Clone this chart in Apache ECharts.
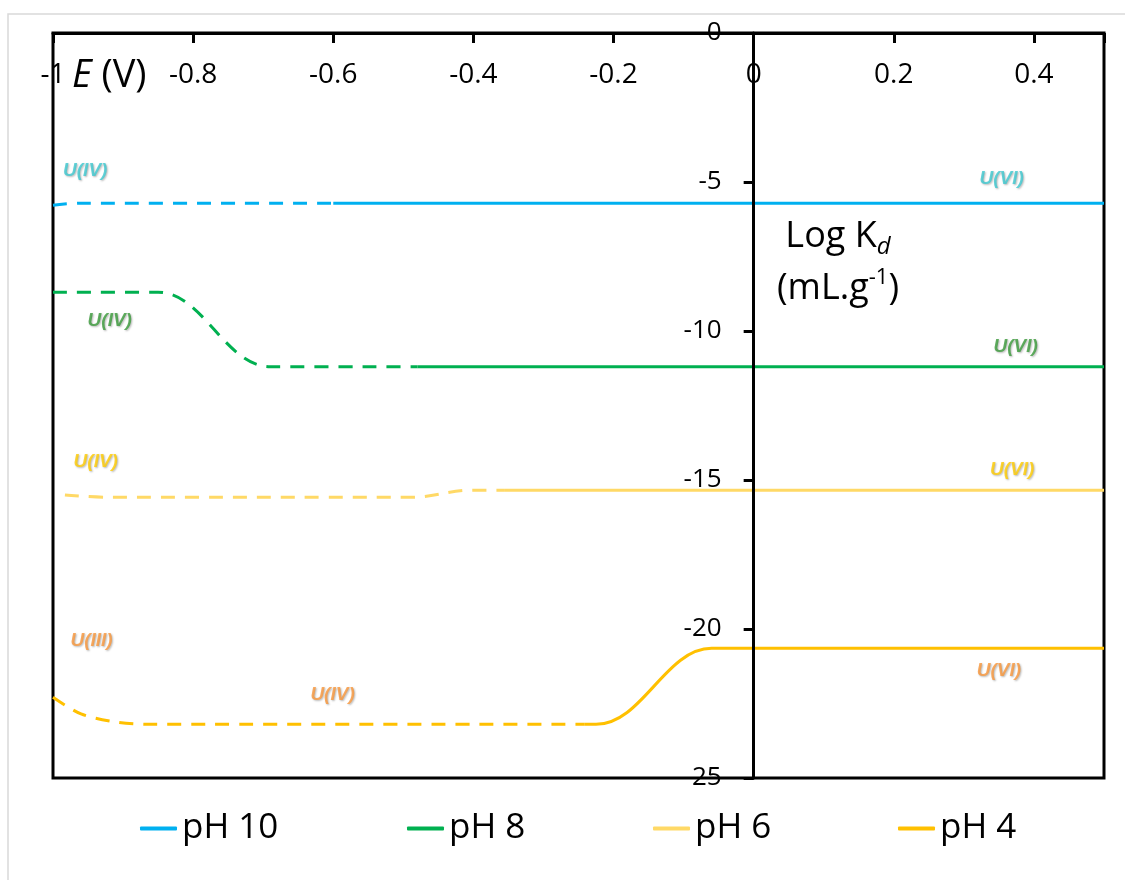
<!DOCTYPE html>
<html><head><meta charset="utf-8">
<script src="https://cdn.jsdelivr.net/npm/echarts@6/dist/echarts.min.js"></script>
<style>html,body{margin:0;padding:0;background:#fff}#c{width:1125px;height:880px}</style>
</head><body><div id="c"></div>
<script>
// ---- data ----
const seriesNames = ['pH 10', 'pH 8', 'pH 6', 'pH 4'];
const xTickLabels = ['-1', '-0.8', '-0.6', '-0.4', '-0.2', '0', '0.2', '0.4'];
const yTickLabels = ['0', '-5', '-10', '-15', '-20', '-25'];

// dashed part (reduced species) and solid part (U(VI)) of each curve
const pH10Dashed = [[-1, -5.78], [-0.96, -5.71], [-0.6, -5.71]];
const pH10Solid  = [[-0.6, -5.71], [0.5, -5.71]];

const pH8Dashed = [[-1, -8.70], [-0.85, -8.70], [-0.69, -11.20], [-0.48, -11.20]];
const pH8Solid  = [[-0.48, -11.20], [0.5, -11.20]];

const pH6Dashed = [[-0.983, -15.50], [-0.92, -15.58], [-0.49, -15.58], [-0.40, -15.34], [-0.355, -15.34]];
const pH6Solid  = [[-0.355, -15.34], [0.5, -15.34]];

const pH4Dashed = [[-1, -22.29], [-0.96, -22.85], [-0.91, -23.12], [-0.86, -23.20], [-0.241, -23.20]];
const pH4Solid  = [[-0.241, -23.20], [-0.225, -23.20], [-0.06, -20.65], [0.5, -20.65]];

const noteTexts  = ['U(IV)', 'U(VI)', 'U(IV)', 'U(VI)', 'U(IV)', 'U(VI)', 'U(III)', 'U(IV)', 'U(VI)'];
const noteX      = [-0.954, 0.354, -0.919, 0.374, -0.939, 0.369, -0.945, -0.601, 0.350];
const noteY      = [-4.63, -4.90, -9.66, -10.54, -14.40, -14.66, -20.40, -22.20, -21.41];
const noteGroup  = [0, 0, 1, 1, 2, 2, 3, 3, 3];

// ---- styles ----
const lineColors = ['#00B0F0', '#00B050', '#FFD966', '#FFC000'];
const noteColors = ['#3CC8CF', '#3A9A3A', '#FFCC00', '#F9963A'];
const legendLefts = [135, 402, 648, 893];
const FONT = 'Open Sans';
const GRID = {left: 53, right: 21, top: 33, bottom: 102};

const chart = echarts.init(document.getElementById('c'), null, {renderer: 'canvas'});

function lineSeries(name, data, color, dashed, monotone) {
  const s = {
    name: name, type: 'line', data: data, symbol: 'none', showSymbol: false,
    smooth: monotone ? 0.4 : 0.3,
    lineStyle: {color: color, width: 3, type: dashed ? [14, 10] : 'solid', cap: 'butt'},
    itemStyle: {color: color}, silent: true, z: 2
  };
  if (monotone) s.smoothMonotone = 'x';
  return s;
}

const dashedSets = [pH10Dashed, pH8Dashed, pH6Dashed, pH4Dashed];
const solidSets = [pH10Solid, pH8Solid, pH6Solid, pH4Solid];
const dashedMonotone = [true, true, true, false];
const series = [];
for (let i = 0; i < 4; i++) {
  series.push(lineSeries(seriesNames[i] + ' (reduced)', dashedSets[i], lineColors[i], true, dashedMonotone[i]));
  series.push(lineSeries(seriesNames[i], solidSets[i], lineColors[i], false, true));
}
series.push({
  type: 'scatter', symbolSize: 0, silent: true, z: 4,
  data: noteTexts.map((t, i) => ({
    value: [noteX[i], noteY[i]], name: t,
    label: {color: noteColors[noteGroup[i]]}
  })),
  label: {
    show: true, position: 'inside', formatter: p => p.name,
    fontFamily: 'Liberation Sans', fontWeight: 'bold', fontStyle: 'italic', fontSize: 19,
    textShadowColor: 'rgba(0,0,0,0.35)', textShadowBlur: 2, textShadowOffsetX: 1, textShadowOffsetY: 1
  }
});

function fmt(v) { return String(Math.round(v * 10) / 10); }

const X_MIN = -1, X_MAX = 0.5;
const plotWidth = 1125 - GRID.left - GRID.right;
// shift the y axis (line, ticks, labels) to x = 0
const yAxisOffset = -plotWidth * (0 - X_MIN) / (X_MAX - X_MIN);

const legends = seriesNames.map((n, i) => ({
  data: [n], left: legendLefts[i], top: 806, itemWidth: 37, itemHeight: 4,
  icon: 'roundRect',
  textStyle: {fontFamily: FONT, fontSize: 35, color: '#000'},
  selectedMode: false
}));

const option = {
  animation: false,
  backgroundColor: '#fff',
  grid: Object.assign({show: true, borderColor: '#000', borderWidth: 3, containLabel: false, outerBoundsMode: 'none'}, GRID),
  xAxis: {
    type: 'value', min: X_MIN, max: X_MAX, interval: 0.2, position: 'top',
    axisLine: {show: true, onZero: true, lineStyle: {color: '#000', width: 3}},
    axisTick: {show: true, inside: true, length: 10, lineStyle: {color: '#000', width: 3}},
    axisLabel: {inside: true, margin: 28, fontFamily: FONT, fontSize: 28, color: '#000',
      formatter: v => xTickLabels.indexOf(fmt(v)) >= 0 ? fmt(v) : ''},
    splitLine: {show: false}, z: 5
  },
  yAxis: {
    type: 'value', min: -25, max: 0, interval: 5, position: 'left', offset: yAxisOffset,
    axisLine: {show: true, onZero: false, lineStyle: {color: '#000', width: 3}},
    axisTick: {show: true, inside: false, length: 10, lineStyle: {color: '#000', width: 3}},
    axisLabel: {margin: 32, fontFamily: FONT, fontSize: 26, color: '#000',
      formatter: v => yTickLabels.indexOf(fmt(v)) >= 0 ? fmt(v) : ''},
    splitLine: {show: false}, z: 5
  },
  legend: legends,
  graphic: [
    {type: 'rect', shape: {x: 8, y: 14, width: 1200, height: 1000}, style: {fill: 'none', stroke: '#D9D9D9', lineWidth: 1.5}, z: -10, silent: true},
    {type: 'text', x: 72, y: 76, style: {
      text: '{e|E} {r|(V)}', verticalAlign: 'middle', align: 'left',
      rich: {e: {fontFamily: FONT, fontSize: 38, fontStyle: 'italic', color: '#000'},
             r: {fontFamily: FONT, fontSize: 38, color: '#000'}},
      fontFamily: FONT, fontSize: 38
    }, z: 10},
    {type: 'text', x: 838, y: 237, style: {
      text: '{n|Log K}{s|d}', align: 'center', verticalAlign: 'middle',
      rich: {n: {fontFamily: FONT, fontSize: 36, color: '#000', lineHeight: 44},
             s: {fontFamily: FONT, fontSize: 24, fontStyle: 'italic', color: '#000', lineHeight: 24, verticalAlign: 'bottom'}},
      fontFamily: FONT, fontSize: 36
    }, z: 10},
    {type: 'text', x: 838, y: 289, style: {
      text: '{n|(mL.g}{s|-1}{n|)}', align: 'center', verticalAlign: 'middle',
      rich: {n: {fontFamily: FONT, fontSize: 36, color: '#000', lineHeight: 44},
             s: {fontFamily: FONT, fontSize: 22, color: '#000', lineHeight: 22, verticalAlign: 'top'}},
      fontFamily: FONT, fontSize: 36
    }, z: 10}
  ],
  series: series
};
chart.setOption(option);
</script>
</body></html>
